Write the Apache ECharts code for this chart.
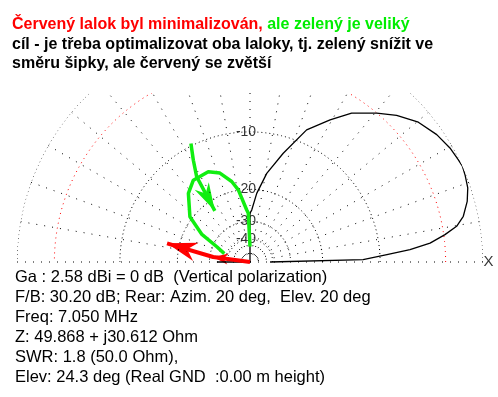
<!DOCTYPE html>
<html>
<head>
<meta charset="utf-8">
<script src="https://cdn.jsdelivr.net/npm/echarts@6/dist/echarts.min.js"></script>
<style>
  html, body { margin: 0; padding: 0; background: #fff; }
  #chart { width: 498px; height: 397px; }
</style>
</head>
<body>
<div id="chart"></div>
<script>
// Rings of the ARRL log scale (dB) and the radial spokes (deg)
const ringDb = [0, -10, -20, -30, -40];
const redRingDb = -3;
const ringLabelDb = [-10, -20, -30, -40];
const ringLabelText = ['-10', '-20', '-30', '-40'];
const spokeAngles = [0, 10, 20, 30, 40, 50, 60, 70, 80, 90, 100, 110, 120, 130, 140, 150, 160, 170, 180];

// Elevation pattern (black), angle in deg, gain in dB
const elevAngles = [0, 1.2, 3.1, 4.4, 6, 8, 9.8, 12.1, 15.6, 18.8, 22.1, 24.3, 26.2, 29.7, 34.3, 39.7, 45, 49.6, 55.7, 60.6, 66.8, 73, 79.3, 84.4, 88.1, 90, 91, 179, 180];
const elevDb = [-42.1, -12.4, -9.1, -6.4, -4.33, -2.89, -1.81, -1.13, -0.56, -0.22, -0.07, 0, -0.07, -0.21, -0.52, -1.08, -2.0, -3.01, -4.4, -6.12, -8.29, -12.31, -16.29, -20.9, -25.75, -26.8, -99, -99, -33.5];

// Green lobe drawn by hand over the plot
const greenLobeAngles = [90, 92, 93.6, 99.2, 102.8, 108.7, 114.8, 124.7, 131.9, 143, 150, 155.3, 162];
const greenLobeDb = [-46.6, -26.8, -25.7, -19.9, -17.8, -15.6, -14.6, -14.6, -15.9, -19.4, -24.5, -31.8, -37];

// Green arrow (last point = tip)
const greenArrowAngles = [116.5, 119.1, 122, 124.5];
const greenArrowDb = [-9.7, -11.9, -14.4, -22.7];

// Red arrow (last point = tip)
const redArrowAngles = [180, 172.3, 167.3];
const redArrowDb = [-99, -31.5, -17.3];

const FLOOR_DB = -60;
const FONT = '"Liberation Sans", Arial, sans-serif';
const GREEN = '#11ee11';
const RED = '#ff0000';

// ARRL log scale: each 2 dB -> factor 0.89
function dbToR(db) {
  return db <= FLOOR_DB ? 0 : Math.pow(0.89, -db / 2);
}

function toPolar(angles, dbs) {
  return angles.map((a, i) => [dbToR(dbs[i]), a]);
}

// segment [tip, previous point] for an arrow head
function headOf(angles, dbs, tip) {
  return [dbToR(dbs[tip]), angles[tip], dbToR(dbs[tip - 1]), angles[tip - 1]];
}

const halfCircle = [];
for (let a = 0; a <= 180; a += 1) halfCircle.push(a);

const series = [];

// spokes
spokeAngles.forEach(a => {
  series.push({
    type: 'line', coordinateSystem: 'polar', symbol: 'none', silent: true, clip: false,
    data: [[0, a], [1, a]],
    lineStyle: { color: '#000', width: 1, type: [1, 7] }
  });
});

// rings
ringDb.forEach(db => {
  series.push({
    type: 'line', coordinateSystem: 'polar', symbol: 'none', silent: true, clip: false,
    data: halfCircle.map(a => [dbToR(db), a]),
    lineStyle: { color: '#000', width: 1, type: [1, 3] }
  });
});
series.push({
  type: 'line', coordinateSystem: 'polar', symbol: 'none', silent: true, clip: false,
  data: halfCircle.map(a => [dbToR(redRingDb), a]),
  lineStyle: { color: RED, width: 1, type: [1, 4] }
});

// pattern
series.push({
  type: 'line', coordinateSystem: 'polar', symbol: 'none', clip: false,
  data: toPolar(elevAngles, elevDb),
  lineStyle: { color: '#000', width: 1.3 }
});

// green lobe and arrow shaft
series.push({
  type: 'line', coordinateSystem: 'polar', symbol: 'none', clip: false,
  data: toPolar(greenLobeAngles, greenLobeDb),
  lineStyle: { color: GREEN, width: 3.5 }
});
series.push({
  type: 'line', coordinateSystem: 'polar', symbol: 'none', clip: false,
  data: toPolar(greenArrowAngles, greenArrowDb),
  lineStyle: { color: GREEN, width: 3.5, cap: 'butt' }
});

// red arrow shaft
series.push({
  type: 'line', coordinateSystem: 'polar', symbol: 'none', clip: false,
  data: toPolar(redArrowAngles, redArrowDb),
  lineStyle: { color: RED, width: 4, cap: 'butt' }
});

// arrow heads: [tip r, tip angle, prev r, prev angle]
const headData = [
  headOf(greenArrowAngles, greenArrowDb, greenArrowAngles.length - 1),
  headOf(redArrowAngles, redArrowDb, redArrowAngles.length - 1),
  headOf(redArrowAngles, redArrowDb, 1)
];
const headStyle = [
  { len: 28, width: 16, color: GREEN },
  { len: 30, width: 19, color: RED },
  { len: 15, width: 11, color: RED }
];
series.push({
  type: 'custom', coordinateSystem: 'polar', silent: true, clip: false,
  dimensions: ['r', 'a', 'pr', 'pa'],
  encode: { radius: 0, angle: 1 },
  data: headData,
  renderItem: function (params, api) {
    const s = headStyle[params.dataIndex];
    const t = api.coord([api.value(0), api.value(1)]);
    const p = api.coord([api.value(2), api.value(3)]);
    const dx = t[0] - p[0], dy = t[1] - p[1];
    const d = Math.sqrt(dx * dx + dy * dy) || 1;
    const ux = dx / d, uy = dy / d;
    const nx = -uy, ny = ux;
    const bx = t[0] - s.len * ux, by = t[1] - s.len * uy;
    const points = [
      t,
      [bx + nx * s.width / 2, by + ny * s.width / 2],
      [t[0] - 0.7 * s.len * ux, t[1] - 0.7 * s.len * uy],
      [bx - nx * s.width / 2, by - ny * s.width / 2]
    ];
    return { type: 'polygon', shape: { points: points }, style: { fill: s.color } };
  }
});

// ring labels
series.push({
  type: 'scatter', coordinateSystem: 'polar', symbolSize: 1, silent: true,
  itemStyle: { color: 'transparent' },
  data: ringLabelDb.map(db => [dbToR(db), 90]),
  label: {
    show: true, position: 'inside', offset: [-4, 0],
    formatter: p => ringLabelText[p.dataIndex],
    color: '#000', fontSize: 14, fontFamily: FONT
  }
});
series.push({
  type: 'scatter', coordinateSystem: 'polar', symbolSize: 1, silent: true,
  itemStyle: { color: 'transparent' },
  data: [[1, 0]],
  label: { show: true, position: 'right', distance: 0, formatter: 'X', color: '#000', fontSize: 15, fontFamily: FONT }
});

const topLines = [
  'cíl - je třeba optimalizovat oba laloky, tj. zelený snížit ve',
  'směru šipky, ale červený se zvětší'
];
const infoLines = [
  'Ga : 2.58 dBi = 0 dB  (Vertical polarization)',
  'F/B: 30.20 dB; Rear: Azim. 20 deg,  Elev. 20 deg',
  'Freq: 7.050 MHz',
  'Z: 49.868 + j30.612 Ohm',
  'SWR: 1.8 (50.0 Ohm),',
  'Elev: 24.3 deg (Real GND  :0.00 m height)'
];

const TITLE_FONT = 'bold 16px ' + FONT;
const graphic = [
  { type: 'rect', z: 100, shape: { x: 0, y: 0, width: 498, height: 93 }, style: { fill: '#fff' } },
  {
    type: 'text', z: 101, x: 12, y: 25,
    style: {
      text: '{r|Červený lalok byl minimalizován,} {g|ale zelený je veliký}',
      verticalAlign: 'middle',
      font: TITLE_FONT,
      rich: {
        r: { fill: RED, font: TITLE_FONT },
        g: { fill: '#00ee00', font: TITLE_FONT }
      }
    }
  }
];
topLines.forEach((t, i) => {
  graphic.push({
    type: 'text', z: 101, x: 12, y: 45 + i * 19,
    style: { text: t, verticalAlign: 'middle', font: TITLE_FONT, fill: '#000' }
  });
});
infoLines.forEach((t, i) => {
  graphic.push({
    type: 'text', z: 101, x: 15, y: 277 + i * 20,
    style: { text: t, verticalAlign: 'middle', font: '16.5px ' + FONT, fill: '#000' }
  });
});

const chart = echarts.init(document.getElementById('chart'));
chart.setOption({
  animation: false,
  polar: { center: [250, 262], radius: 233 },
  angleAxis: { type: 'value', min: 0, max: 360, startAngle: 0, clockwise: false, show: false },
  radiusAxis: { type: 'value', min: 0, max: 1, show: false },
  series: series,
  graphic: graphic
});
</script>
</body>
</html>
